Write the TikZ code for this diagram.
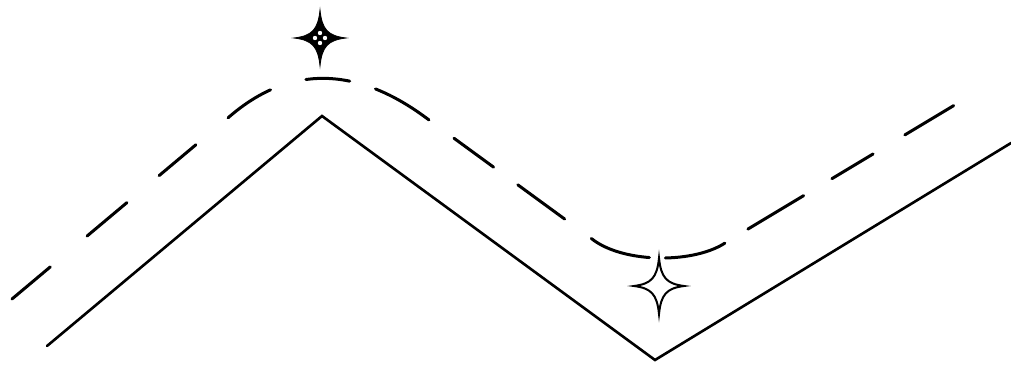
\documentclass[tikz,border=0pt]{standalone}
\usetikzlibrary{calc}
\tikzset{
  ridge line/.style={line width=2.6pt,line join=miter,line cap=round},
  % hand-spaced dashes, measured along the trail
  trail line/.style={line width=3pt,line cap=round,
    dash pattern=on 50pt off 48pt on 52pt off 42pt on 48pt off 42pt on 51pt off 37pt
      on 44pt off 27pt on 62pt off 31pt on 49pt off 30pt on 58pt off 33pt
      on 62pt off 16pt on 62pt off 27pt on 65pt off 33pt on 48pt off 37pt on 57pt off 60pt},
  pics/sparkle/.style 2 args={code={
    \path[pic actions] (0,-#2) .. controls (#1*0.08,-#2*0.3) and (#1*0.3,-#2*0.08) .. (#1,0)
      .. controls (#1*0.3,#2*0.08) and (#1*0.08,#2*0.3) .. (0,#2)
      .. controls (-#1*0.08,#2*0.3) and (-#1*0.3,#2*0.08) .. (-#1,0)
      .. controls (-#1*0.3,-#2*0.08) and (-#1*0.08,-#2*0.3) .. cycle;
  }}
}
\begin{document}
\begin{tikzpicture}[x=1pt,y=-1pt]
  \useasboundingbox (0,0) rectangle (1011,364);
  % solid ridge
  \coordinate (start) at (47,346);
  \coordinate (peak) at (322,116);
  \coordinate (valley) at (655,360);
  \coordinate (end) at (1011,143);
  \draw[ridge line] (start) -- (peak) -- (valley) -- (end);
  % dashed trail above it
  \coordinate (trailstart) at (12,299);
  \coordinate (topin) at (229,117);
  \coordinate (topout) at (429,120);
  \coordinate (lowin) at (592,239);
  \coordinate (lowout) at (728,241);
  \coordinate (trailend) at (958,103);
  \draw[trail line] (trailstart) -- (topin)
    .. controls (290,64) and (358,66) .. (topout) -- (lowin)
    .. controls (624,264) and (697,264) .. (lowout) -- (trailend);
  % stars
  \pic[fill=black,draw=black,line width=0.8pt] at (320,38) {sparkle={26}{28}};
  \foreach \dx/\dy in {0/-5,0/5,-5/0,5/0}
    \fill[white] (320+\dx,38+\dy) ellipse (2.2pt and 2.2pt);
  \fill[black] (320,38) circle (1.6pt);
  \pic[fill=white,draw=black,line width=2pt] at (659,286) {sparkle={25}{28}};
\end{tikzpicture}
\end{document}
